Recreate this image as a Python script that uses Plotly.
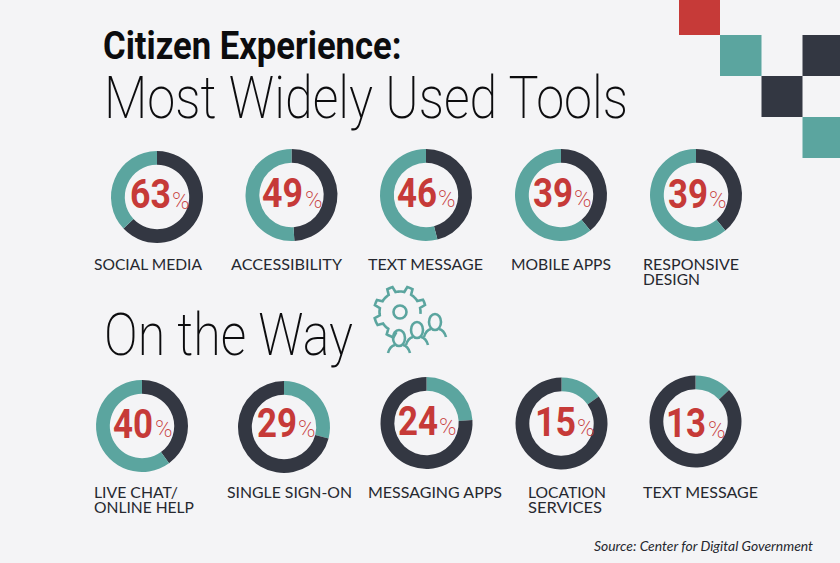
import json
import math
import plotly.graph_objects as go

# Data
row1_labels = ["SOCIAL MEDIA", "ACCESSIBILITY", "TEXT MESSAGE", "MOBILE APPS", "RESPONSIVE<br>DESIGN"]
row1_values = [63, 49, 46, 39, 39]
row2_labels = ["LIVE CHAT/<br>ONLINE HELP", "SINGLE SIGN-ON", "MESSAGING APPS", "LOCATION<br>SERVICES", "TEXT MESSAGE"]
row2_values = [40, 29, 24, 15, 13]

# Layout (pixel positions in the 840x563 canvas)
W, H = 840, 563
row1_centers = [(157, 197), (291.5, 195), (426, 195), (561, 195), (696, 195)]
row2_centers = [(142, 426), (284, 427), (426.5, 423), (561.5, 423.5), (695.5, 421.5)]
# number: left, right, vertical centre; percent sign: left, vertical centre
row1_num = [(130, 171, 194), (262, 303, 193), (397, 437, 192.5), (533, 573, 193), (668, 708, 194)]
row2_num = [(113, 153, 423.5), (257, 297, 422.5), (398, 438, 420.5), (535, 576, 421.5), (666, 706, 422.5)]
row1_pct = [(172, 201.5), (305, 200.5), (438, 199), (574, 199.5), (709, 200.5)]
row2_pct = [(155, 429.5), (298, 429.5), (439, 427), (577, 428.5), (708, 430)]
row1_label_x = [94, 231, 368, 511, 643]
row2_label_x = [94, 227, 368, 528, 643]
row1_label_w = [[108], [111], [115], [100], [96, 57]]
row2_label_w = [[84, 100], [125], [134], [78, 74], [115]]
ROW1_LABEL_Y, ROW2_LABEL_Y, LINE_GAP = 264, 492, 15
R = 46
TEAL, DARK, RED, BG = "#5ba59f", "#333742", "#c63a38", "#f4f4f6"
PAD = 2  # annotation box padding

fig = go.Figure()
# invisible trace: provides the pixel-scaled axes used by the texts and icon
fig.add_trace(go.Scatter(x=[0, W], y=[0, H], mode="none", showlegend=False, hoverinfo="skip"))
ann, fits, shapes = [], [], []


def text(x, y, t, width, family, size, color, weight=400, style="normal", adjust="spacingAndGlyphs"):
    """Left-anchored text whose rendered width is fitted to `width` pixels."""
    ann.append(dict(x=x - PAD, y=y, text=t, xanchor="left", yanchor="middle", align="left", showarrow=False,
                    font=dict(family=family, size=size, color=color, weight=weight, style=style)))
    fits.append([width, adjust])


def donut(center, v, colors, num, pct):
    cx, cy = center
    fig.add_trace(go.Pie(
        values=[v, 100 - v], sort=False, direction="clockwise", rotation=0, hole=0.7,
        marker=dict(colors=colors, line=dict(width=0)), textinfo="none", hoverinfo="skip",
        showlegend=False,
        domain=dict(x=[(cx - R) / W, (cx + R) / W], y=[1 - (cy + R) / H, 1 - (cy - R) / H]),
    ))
    text(num[0], num[2], str(v), num[1] - num[0], "Roboto", 41, RED, 700)
    text(pct[0], pct[1], "%", 17.5, "Roboto", 23, RED, 200)


def label(x, y, t, widths):
    for j, line in enumerate(t.split("<br>")):
        text(x, y + j * LINE_GAP, line, widths[j], "Lato", 14.5, "#26282f", 400)


for i, v in enumerate(row1_values):
    donut(row1_centers[i], v, [DARK, TEAL], row1_num[i], row1_pct[i])
    label(row1_label_x[i], ROW1_LABEL_Y, row1_labels[i], row1_label_w[i])
for i, v in enumerate(row2_values):
    # lower row: first gauge shows the value in dark, the rest in teal
    donut(row2_centers[i], v, [DARK, TEAL] if i == 0 else [TEAL, DARK], row2_num[i], row2_pct[i])
    label(row2_label_x[i], ROW2_LABEL_Y, row2_labels[i], row2_label_w[i])

# Headings
text(102.5, 45, "Citizen Experience:", 298.5, "Roboto", 39.5, "#0c0c0e", 700)
text(104, 97, "Most Widely Used Tools", 524, "Roboto", 59, "#0c0c0e", 200)
text(104, 334, "On the Way", 249, "Roboto", 59, "#0c0c0e", 200)
text(594, 545, "Source: Center for Digital Government", 219, "Lato", 14, "#26282f", 400, "italic")

# Corner squares
for x0, y0, x1, y1, c in [(679, 0, 720, 35, RED), (720, 35, 761.5, 76, TEAL), (802.5, 35, 840, 76, DARK),
                          (761.5, 76, 802.5, 117, DARK), (802.5, 117, 840, 158, TEAL)]:
    shapes.append(dict(type="rect", x0=x0, y0=y0, x1=x1, y1=y1, fillcolor=c, line_width=0, layer="below"))

# Gear + people icon
ic = dict(color=TEAL, width=2.6)
gx, gy = 400, 312
pts = []
n_teeth = 8
a0, a1 = math.radians(100), math.radians(365)
steps = 64
for k in range(steps + 1):
    a = a0 + (a1 - a0) * k / steps
    phase = (math.degrees(a) / (360 / n_teeth)) % 1
    r = 26 if 0.3 < phase < 0.7 else 20.5
    pts.append((gx + r * math.cos(a), gy + r * math.sin(a)))
shapes.append(dict(type="path", path="M" + " L".join(f"{x:.1f},{y:.1f}" for x, y in pts), line=ic))
shapes.append(dict(type="circle", x0=gx - 6.5, y0=gy - 6.5, x1=gx + 6.5, y1=gy + 6.5, line=ic))
for hx, hy in [(399, 338), (417, 330), (435, 322)]:
    shapes.append(dict(type="circle", x0=hx - 6, y0=hy - 8, x1=hx + 6, y1=hy + 8, line=ic))
    shapes.append(dict(type="path", path=f"M{hx-11},{hy+15} Q{hx-9},{hy+8} {hx-4},{hy+7} M{hx+4},{hy+7} Q{hx+9},{hy+8} {hx+11},{hy+15}", line=ic))

fig.update_layout(
    width=W, height=H, margin=dict(l=0, r=0, t=0, b=0), paper_bgcolor=BG, plot_bgcolor=BG,
    xaxis=dict(range=[0, W], visible=False, fixedrange=True),
    yaxis=dict(range=[H, 0], visible=False, fixedrange=True),
    annotations=ann, shapes=shapes,
)
post = """
document.body.style.margin='0';document.body.style.background='%s';
var fits=%s, gd=document.getElementById('{plot_id}');
function fit(){
  gd.querySelectorAll('g.annotation').forEach(function(g){
    var f=fits[+g.getAttribute('data-index')], t=g.querySelector('text.annotation-text');
    if(f&&t){t.setAttribute('textLength',f[0]);t.setAttribute('lengthAdjust',f[1]);}
  });
}
fit(); if(gd.on) gd.on('plotly_afterplot',fit);
""" % (BG, json.dumps(fits))
fig.write_html("out.html", post_script=post, config=dict(displayModeBar=False))
